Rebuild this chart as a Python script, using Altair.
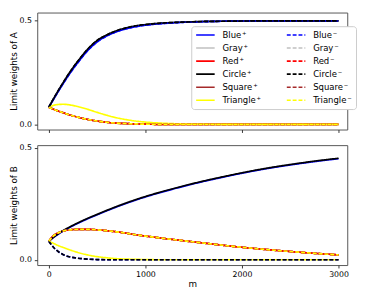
import altair as alt
import pandas as pd

# ---------------- data ----------------
m = [0, 50, 100, 150, 200, 300, 400, 500, 600, 700, 800, 900, 1000,
     1200, 1400, 1600, 1800, 2000, 2250, 2500, 2750, 3000]

# panel A (limit weights of A)
a_circle_up = [0.083, 0.125, 0.165, 0.203, 0.240, 0.305, 0.362, 0.405, 0.432, 0.452, 0.466,
               0.476, 0.482, 0.490, 0.494, 0.497, 0.498, 0.499, 0.500, 0.500, 0.500, 0.500]
a_blue_up = [0.083, 0.122, 0.161, 0.198, 0.234, 0.298, 0.355, 0.398, 0.427, 0.447, 0.462,
             0.472, 0.479, 0.488, 0.493, 0.496, 0.498, 0.499, 0.500, 0.500, 0.500, 0.500]
a_triangle_bump = [0.083, 0.092, 0.096, 0.097, 0.095, 0.086, 0.073, 0.058, 0.044, 0.032, 0.023,
                   0.016, 0.011, 0.005, 0.002, 0.001, 0.000, 0.000, 0.000, 0.000, 0.000, 0.000]
a_decay = [0.083, 0.073, 0.064, 0.056, 0.048, 0.035, 0.024, 0.016, 0.010, 0.006, 0.004,
           0.002, 0.001, 0.000, 0.000, 0.000, 0.000, 0.000, 0.000, 0.000, 0.000, 0.000]

# panel B (limit weights of B)
b_circle_up = [0.083, 0.101, 0.117, 0.131, 0.143, 0.165, 0.185, 0.203, 0.221, 0.238, 0.254,
               0.269, 0.283, 0.308, 0.331, 0.352, 0.371, 0.389, 0.409, 0.426, 0.441, 0.454]
b_blue_up = [0.083, 0.100, 0.115, 0.129, 0.141, 0.163, 0.183, 0.201, 0.219, 0.236, 0.252,
             0.267, 0.281, 0.306, 0.329, 0.350, 0.369, 0.387, 0.407, 0.424, 0.439, 0.452]
b_bump = [0.083, 0.108, 0.121, 0.129, 0.133, 0.136, 0.136, 0.134, 0.130, 0.125, 0.119,
          0.112, 0.106, 0.095, 0.085, 0.075, 0.065, 0.056, 0.046, 0.037, 0.029, 0.022]
b_triangle_decay = [0.083, 0.073, 0.063, 0.055, 0.047, 0.033, 0.022, 0.014, 0.009, 0.005, 0.003,
                    0.002, 0.001, 0.000, 0.000, 0.000, 0.000, 0.000, 0.000, 0.000, 0.000, 0.000]
b_fast_decay = [0.083, 0.055, 0.036, 0.023, 0.015, 0.007, 0.003, 0.001, 0.000, 0.000, 0.000,
                0.000, 0.000, 0.000, 0.000, 0.000, 0.000, 0.000, 0.000, 0.000, 0.000, 0.000]

P = "\u200a⁺"
M = "\u200a⁻"
series_names = ["Blue" + P, "Gray" + P, "Red" + P, "Circle" + P, "Square" + P, "Triangle" + P,
                "Blue" + M, "Gray" + M, "Red" + M, "Circle" + M, "Square" + M, "Triangle" + M]
series_colors = ["#0000ff", "#c0c0c0", "#ff0000", "#000000", "#a52a2a", "#ffff00",
                 "#0000ff", "#c0c0c0", "#ff0000", "#000000", "#a52a2a", "#ffff00"]
x_ticks = [0, 1000, 2000, 3000]
y_ticks = [0.0, 0.5]

# which curve each series follows
panel_a = {
    "Blue" + P: a_blue_up, "Blue" + M: a_blue_up, "Circle" + P: a_circle_up, "Circle" + M: a_circle_up,
    "Triangle" + P: a_triangle_bump,
    "Gray" + P: a_decay, "Gray" + M: a_decay, "Red" + P: a_decay, "Red" + M: a_decay,
    "Square" + P: a_decay, "Square" + M: a_decay, "Triangle" + M: a_decay,
}
panel_b = {
    "Blue" + P: b_blue_up, "Circle" + P: b_circle_up, "Blue" + M: b_fast_decay, "Circle" + M: b_fast_decay,
    "Triangle" + P: b_triangle_decay,
    "Gray" + P: b_bump, "Gray" + M: b_bump, "Red" + P: b_bump, "Red" + M: b_bump,
    "Square" + P: b_bump, "Square" + M: b_bump, "Triangle" + M: b_bump,
}

# drawing order (first drawn at the bottom)
draw_order = ["Gray" + P, "Square" + P, "Red" + P, "Blue" + P, "Circle" + P, "Triangle" + P,
              "Gray" + M, "Square" + M, "Red" + M, "Blue" + M, "Circle" + M, "Triangle" + M]


def frame(curves):
    rows = []
    for k, s in enumerate(draw_order):
        for mi, w in zip(m, curves[s]):
            rows.append({"series": s, "m": mi, "w": w, "z": k})
    return pd.DataFrame(rows)


dash_range = [[1, 0] if n.endswith("⁺") else [4, 2] for n in series_names]
width_range = [2.6 if n.startswith("Triangle") else 1.7 for n in series_names]

FONT = "DejaVu Sans"


def panel(df, ytitle, ydomain, height, bottom, legend):
    return alt.Chart(df).mark_line(interpolate="monotone").encode(
        x=alt.X("m:Q", scale=alt.Scale(domain=[-120, 3090], nice=False, zero=False),
                axis=alt.Axis(values=x_ticks, labels=bottom, format="d",
                              title="m" if bottom else None)),
        y=alt.Y("w:Q", scale=alt.Scale(domain=ydomain, nice=False, zero=False),
                axis=alt.Axis(values=y_ticks, format=".1f", title=ytitle)),
        color=alt.Color("series:N", scale=alt.Scale(domain=series_names, range=series_colors),
                        legend=legend),
        strokeDash=alt.StrokeDash("series:N", scale=alt.Scale(domain=series_names, range=dash_range),
                                  legend=legend),
        strokeWidth=alt.StrokeWidth("series:N", scale=alt.Scale(domain=series_names, range=width_range),
                                    legend=legend),
    ).properties(width=318, height=height)


leg = alt.Legend(title=None, orient="none", legendX=158, legendY=14, columns=2,
                 symbolType="stroke", symbolSize=361, clipHeight=10, rowPadding=3.4,
                 columnPadding=25, labelOffset=7, labelFont=FONT, labelFontSize=8.7,
                 labelColor="black", fillColor="white", strokeColor="#cccccc",
                 cornerRadius=3, padding=4)

top = panel(frame(panel_a), "Limit weights of A", [-0.025, 0.54], 120, False, leg)
bottom = panel(frame(panel_b), "Limit weights of B", [-0.0235, 0.5126], 123, True, None)

chart = alt.vconcat(top, bottom, spacing=10, padding=0).resolve_scale(
    color="independent", strokeDash="independent", strokeWidth="independent"
).configure(font=FONT).configure_view(
    stroke="#555555", strokeWidth=1
).configure_axis(
    domain=False, grid=False, tickColor="#333333", tickSize=3, tickWidth=1,
    labelFont=FONT, labelFontSize=8, labelColor="black", labelPadding=3,
    titleFont=FONT, titleFontSize=9, titleFontWeight="normal", titleColor="black",
    titlePadding=1, minExtent=0
)

chart.save("out.html", embed_options={"renderer": "svg", "actions": False})
